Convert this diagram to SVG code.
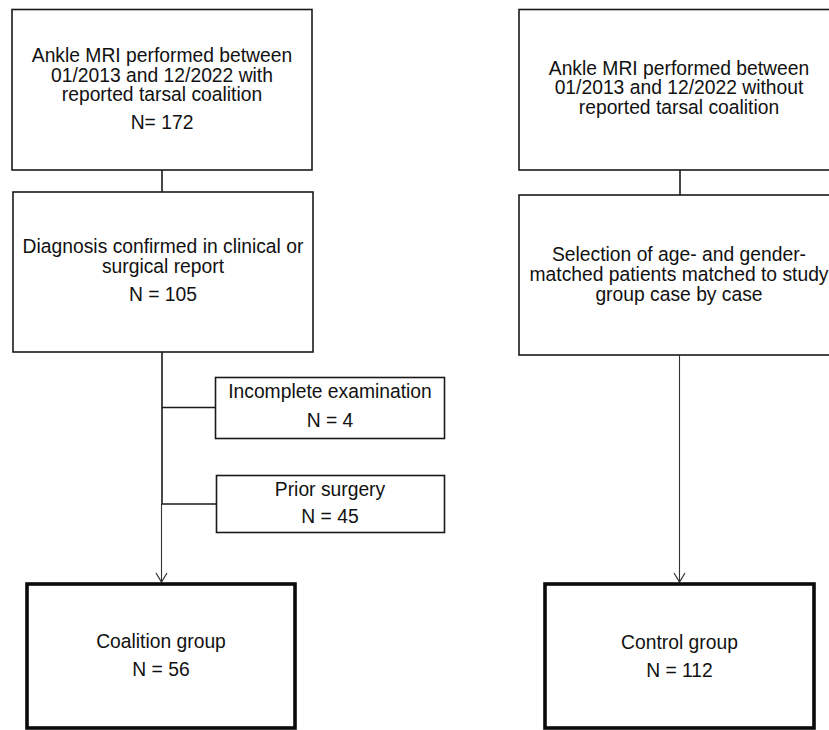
<svg xmlns="http://www.w3.org/2000/svg" width="829" height="730" viewBox="0 0 829 730">
<defs>
<style>
.box{fill:#fff;stroke:#1a1a1a;stroke-width:1.6}
.thick{fill:#fff;stroke:#0a0a0a;stroke-width:3.6}
.ln{fill:none;stroke:#1a1a1a;stroke-width:1.6}
.ln2{fill:none;stroke:#333;stroke-width:1.1}
text{font-family:"Liberation Sans",Arial,sans-serif;font-size:19.3px;fill:#111;text-anchor:middle}
</style>
<marker id="arr" markerWidth="12" markerHeight="14" refX="10" refY="7" orient="auto" markerUnits="userSpaceOnUse" viewBox="0 0 12 14">
<path d="M1,1.5 L10,7 L1,12.5" fill="none" stroke="#333" stroke-width="1.2"/>
</marker>
</defs>
<rect width="829" height="730" fill="#fff"/>
<g id="connectors">
<line class="ln" x1="162" y1="170" x2="162" y2="192"/>
<line class="ln" x1="162" y1="352" x2="162" y2="504"/>
<line class="ln" x1="162" y1="407.5" x2="215" y2="407.5"/>
<line class="ln" x1="162" y1="504" x2="217" y2="504"/>
<line class="ln2" x1="161.5" y1="504" x2="161.5" y2="582" marker-end="url(#arr)"/>
<line class="ln" x1="680" y1="170" x2="680" y2="195"/>
<line class="ln2" x1="679.5" y1="355" x2="679.5" y2="582" marker-end="url(#arr)"/>
</g>
<g id="n1">
<rect class="box" x="12" y="9.5" width="300" height="160.5"/>
<text x="162" y="62.3">Ankle MRI performed between</text>
<text x="162" y="81.7">01/2013 and 12/2022 with</text>
<text x="162" y="101">reported tarsal coalition</text>
<text x="162" y="129.3">N= 172</text>
</g>
<g id="n2">
<rect class="box" x="13" y="192" width="300" height="160"/>
<text x="163" y="253.3">Diagnosis confirmed in clinical or</text>
<text x="163" y="272.5">surgical report</text>
<text x="163" y="300.7">N = 105</text>
</g>
<g id="n3">
<rect class="box" x="519" y="9.5" width="330" height="160.5"/>
<text x="679" y="74.5">Ankle MRI performed between</text>
<text x="679" y="94">01/2013 and 12/2022 without</text>
<text x="679" y="113.5">reported tarsal coalition</text>
</g>
<g id="n4">
<rect class="box" x="519" y="195" width="330" height="160"/>
<text x="679" y="261">Selection of age- and gender-</text>
<text x="679" y="281">matched patients matched to study</text>
<text x="679" y="300.7">group case by case</text>
</g>
<g id="n5">
<rect class="box" x="215.5" y="377.5" width="229" height="61"/>
<text x="330" y="398.3">Incomplete examination</text>
<text x="330" y="426.7">N = 4</text>
</g>
<g id="n6">
<rect class="box" x="216.5" y="475.5" width="228" height="57"/>
<text x="330" y="496">Prior surgery</text>
<text x="330" y="523.3">N = 45</text>
</g>
<g id="n7">
<rect class="thick" x="27" y="584" width="268" height="144"/>
<text x="161" y="648">Coalition group</text>
<text x="161" y="676">N = 56</text>
</g>
<g id="n8">
<rect class="thick" x="545" y="584" width="269" height="144"/>
<text x="679.5" y="649">Control group</text>
<text x="679.5" y="676.5">N = 112</text>
</g>
</svg>
